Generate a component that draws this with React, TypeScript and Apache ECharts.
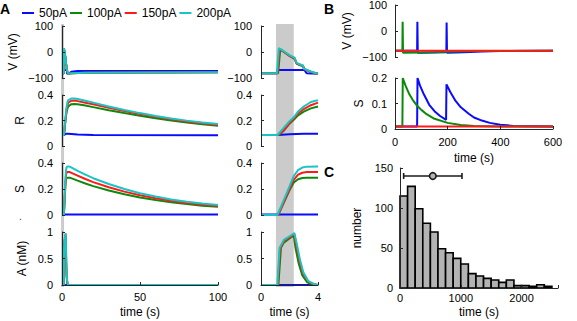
import React, { useEffect, useRef } from 'react';
import * as echarts from 'echarts';

const FONT = 'Liberation Sans, Arial, sans-serif';
const AX = '#262626';

// ---- legend / series names & colours
const currents = ['50pA', '100pA', '150pA', '200pA'];
const colors = ['#0a0aff', '#0a8a0a', '#ff1a1a', '#1ac4c4'];

// ---- Panel A, zoomed window (0-4 s)
const zV50 = [[0, -82], [1.12, -82], [1.18, -69], [3.05, -69], [3.2, -82], [4, -84]];
const zV100 = [[0, -82], [1.2, -82], [1.35, 10], [1.6, 0], [2.0, -15], [2.35, -26], [2.5, -45], [2.7, -50], [2.95, -55], [3.05, -66], [3.5, -77], [4, -84]];
const zV150 = [[0, -82], [1.15, -82], [1.3, 12], [1.6, 1], [2.0, -14], [2.35, -24], [2.5, -44], [2.7, -48], [2.95, -53], [3.0, -65], [3.5, -76], [4, -84]];
const zV200 = [[0, -82], [1.12, -82], [1.25, 15], [1.6, 3], [2.0, -12], [2.35, -22], [2.5, -42], [2.7, -47], [2.95, -52], [3.0, -64], [3.5, -75], [4, -84]];

const zR50 = [[0, 0.086], [1.2, 0.086], [2.0, 0.092], [3.0, 0.097], [4, 0.096]];
const zR100 = [[0, 0.086], [1.25, 0.086], [1.6, 0.12], [2.0, 0.175], [2.3, 0.205], [2.6, 0.24], [3.0, 0.27], [3.5, 0.295], [4, 0.31]];
const zR150 = [[0, 0.086], [1.2, 0.086], [1.6, 0.123], [2.0, 0.18], [2.3, 0.215], [2.6, 0.255], [3.0, 0.29], [3.5, 0.32], [4, 0.34]];
const zR200 = [[0, 0.086], [1.15, 0.086], [1.5, 0.13], [2.0, 0.195], [2.3, 0.225], [2.6, 0.27], [3.0, 0.31], [3.5, 0.345], [4, 0.36]];

const zS50 = [[0, 0.004], [4, 0.004]];
const zS100 = [[0, 0], [1.2, 0], [1.5, 0.07], [2.0, 0.19], [2.3, 0.25], [2.6, 0.275], [2.9, 0.284], [3.2, 0.287], [4, 0.287]];
const zS150 = [[0, 0], [1.2, 0], [1.5, 0.075], [2.0, 0.2], [2.3, 0.27], [2.6, 0.31], [2.9, 0.325], [3.2, 0.33], [4, 0.33]];
const zS200 = [[0, 0], [1.15, 0], [1.5, 0.09], [2.0, 0.22], [2.3, 0.3], [2.6, 0.345], [2.9, 0.365], [3.2, 0.372], [4, 0.374]];

const zA50 = [[0, 0], [4, 0]];
const zA100 = [[0, 0], [1.22, 0], [1.4, 0.7], [1.6, 0.8], [2.0, 0.88], [2.3, 0.93], [2.42, 0.7], [2.65, 0.4], [2.9, 0.18], [3.25, 0.05], [3.6, 0.01], [4, 0]];
const zA150 = [[0, 0], [1.18, 0], [1.33, 0.68], [1.6, 0.83], [2.0, 0.9], [2.34, 0.96], [2.48, 0.75], [2.7, 0.45], [2.95, 0.22], [3.3, 0.07], [3.7, 0.015], [4, 0]];
const zA200 = [[0, 0], [1.15, 0], [1.3, 0.7], [1.6, 0.85], [2.0, 0.92], [2.34, 0.98], [2.5, 0.79], [2.74, 0.47], [2.97, 0.24], [3.3, 0.08], [3.7, 0.02], [4, 0]];

// ---- Panel A, long window tails (after 4 s, up to 100 s)
const tV50 = [[6, -76], [10, -73], [100, -73]];
const tV100 = [[6, -82], [15, -80], [100, -78]];
const tV150 = [[6, -82], [15, -80], [100, -78]];
const tV200 = [[6, -82], [15, -80], [100, -78]];

const tR50 = [[6, 0.094], [10, 0.09], [20, 0.087], [100, 0.085]];
const tR100 = [[6, 0.328], [8, 0.33], [10, 0.327], [15, 0.317], [20, 0.305], [30, 0.281], [40, 0.258], [50, 0.237], [60, 0.218], [70, 0.2], [80, 0.185], [90, 0.171], [100, 0.158]];
const tR150 = [[6, 0.355], [8, 0.356], [10, 0.352], [15, 0.34], [20, 0.327], [30, 0.3], [40, 0.274], [50, 0.25], [60, 0.229], [70, 0.21], [80, 0.193], [90, 0.178], [100, 0.165]];
const tR200 = [[6, 0.372], [8, 0.372], [10, 0.368], [15, 0.355], [20, 0.34], [30, 0.31], [40, 0.283], [50, 0.258], [60, 0.236], [70, 0.216], [80, 0.199], [90, 0.185], [100, 0.172]];

const tS50 = [[100, 0.004]];
const tS100 = [[5, 0.287], [10, 0.264], [15, 0.242], [20, 0.222], [30, 0.188], [40, 0.159], [50, 0.135], [60, 0.115], [70, 0.098], [80, 0.084], [90, 0.072], [100, 0.063]];
const tS150 = [[5, 0.33], [10, 0.303], [15, 0.277], [20, 0.253], [30, 0.213], [40, 0.18], [50, 0.152], [60, 0.129], [70, 0.109], [80, 0.093], [90, 0.08], [100, 0.07]];
const tS200 = [[5, 0.372], [10, 0.34], [15, 0.31], [20, 0.283], [30, 0.238], [40, 0.2], [50, 0.168], [60, 0.142], [70, 0.12], [80, 0.102], [90, 0.088], [100, 0.077]];

const tA = [[100, 0]];

// stimulus bands (time, s)
const bandLong = [-0.6, 1.3];
const bandZoom = [1.05, 2.3];

// ---- Panel B (0-600 s)
const bV50 = [[0, -76], [84, -76], [85, 36], [86.5, -84], [150, -83], [195, -82], [196, 33], [197.5, -84], [260, -82], [330, -79], [400, -77], [600, -76]];
const bV100 = [[0, -76], [28, -76], [29, 36], [30.5, -84], [100, -83], [200, -80], [300, -77], [600, -76]];
const bV150 = [[0, -76], [600, -76]];
const bS50 = [[0, 0.01], [84, 0.01], [85.5, 0.2], [95, 0.17], [110, 0.135], [130, 0.095], [150, 0.07], [170, 0.052], [194, 0.036], [195.5, 0.175], [210, 0.145], [230, 0.11], [250, 0.085], [280, 0.06], [300, 0.045], [330, 0.033], [360, 0.024], [400, 0.017], [450, 0.012], [600, 0.01]];
const bS100 = [[0, 0.01], [28, 0.01], [29.5, 0.2], [40, 0.17], [55, 0.135], [70, 0.11], [85, 0.09], [100, 0.075], [120, 0.058], [150, 0.04], [200, 0.024], [250, 0.016], [300, 0.012], [400, 0.01], [600, 0.01]];
const bS150 = [[0, 0.01], [600, 0.01]];

// ---- Panel C histogram
const histEdges = [0, 125, 250, 375, 500, 625, 750, 875, 1000, 1125, 1250, 1375, 1500, 1625, 1750, 1875, 2000, 2125, 2250, 2375, 2500];
const histCounts = [115, 127, 99, 81, 70, 49, 44, 37, 30, 18, 15, 12, 10, 7, 10, 3, 3, 2, 4, 2];
const errBar = { low: 60, mean: 540, high: 1020, y: 140 };

const fmt = (v: number) => String(Number(v.toFixed(3))).replace('-', '\u2212');

function yAx(gridIndex: number, min: number, max: number, interval: number, name: string, nameGap: number, margin: number) {
  return {
    type: 'value', gridIndex, min, max, interval, name, nameLocation: 'middle', nameGap,
    nameTextStyle: { fontSize: 12, color: '#000', fontFamily: FONT },
    axisLine: { show: true, onZero: false, lineStyle: { color: AX, width: 1 } },
    axisTick: { show: true, inside: true, length: 3, lineStyle: { color: AX, width: 1 } },
    axisLabel: { fontSize: 11, color: '#000', fontFamily: FONT, margin, formatter: fmt },
    splitLine: { show: false },
    z: 4,
  };
}

function xHidden(gridIndex: number, min: number, max: number) {
  return { type: 'value', gridIndex, min, max, show: false };
}

function xAx(gridIndex: number, min: number, max: number, interval: number, margin: number, nameGap: number, formatter?: any) {
  return {
    type: 'value', gridIndex, min, max, interval, name: 'time (s)', nameLocation: 'middle', nameGap,
    nameTextStyle: { fontSize: 12, color: '#000', fontFamily: FONT },
    axisLine: { show: true, onZero: false, lineStyle: { color: AX, width: 1 } },
    axisTick: { show: true, inside: true, length: 3, lineStyle: { color: AX, width: 1 } },
    axisLabel: { fontSize: 11, color: '#000', fontFamily: FONT, margin, formatter: formatter || fmt },
    splitLine: { show: false },
    z: 4,
  };
}

function line(nameIdx: number, data: number[][], axIdx: number) {
  const c = colors[nameIdx];
  return {
    type: 'line', name: currents[nameIdx], xAxisIndex: axIdx, yAxisIndex: axIdx, data,
    showSymbol: false, symbol: 'none', lineStyle: { color: c, width: 2 }, itemStyle: { color: c },
    z: 2 + nameIdx * 0.1,
  };
}

function buildOption() {
  const gl = { left: 62, width: 156 };
  const gr = { left: 261, width: 57 };
  const rows = [{ top: 26, height: 52 }, { top: 95, height: 51 }, { top: 163, height: 52 }, { top: 232, height: 53 }];
  const grid: any[] = [];
  rows.forEach((r) => grid.push({ ...gl, ...r, outerBoundsMode: 'none', containLabel: false }));
  rows.forEach((r) => grid.push({ ...gr, ...r, outerBoundsMode: 'none', containLabel: false }));
  grid.push({ left: 395, width: 158, top: 5, height: 52, outerBoundsMode: 'none', containLabel: false });
  grid.push({ left: 395, width: 158, top: 78, height: 51, outerBoundsMode: 'none', containLabel: false });
  grid.push({ left: 400, width: 158, top: 168, height: 120, outerBoundsMode: 'none', containLabel: false });

  const xAxis: any[] = [
    xHidden(0, 0, 100), xHidden(1, 0, 100), xHidden(2, 0, 100), xAx(3, 0, 100, 50, 6, 21),
    xHidden(4, 0, 4), xHidden(5, 0, 4), xHidden(6, 0, 4), xAx(7, 0, 4, 4, 6, 21),
    xHidden(8, 0, 600), xAx(9, 0, 600, 200, 7, 23),
    xAx(10, 0, 2600, 1000, 4, 18, (v: number) => (v % 1000 === 0 ? String(v) : '')),
  ];
  const yAxis: any[] = [
    yAx(0, -100, 100, 100, 'V (mV)', 43, 9), yAx(1, 0, 0.4, 0.2, 'R', 36, 9), yAx(2, 0, 0.4, 0.2, 'S', 36, 9), yAx(3, 0, 1, 0.5, 'A (nM)', 34, 9),
    yAx(4, -100, 100, 100, '', 0, 9), yAx(5, 0, 0.4, 0.2, '', 0, 9), yAx(6, 0, 0.4, 0.2, '', 0, 9), yAx(7, 0, 1, 0.5, '', 0, 9),
    yAx(8, -100, 100, 100, 'V (mV)', 42, 8), yAx(9, 0, 0.2, 0.1, 'S', 30, 8),
    yAx(10, 0, 150, 50, 'number', 37, 7),
  ];

  const zoom = [[zV50, zV100, zV150, zV200], [zR50, zR100, zR150, zR200], [zS50, zS100, zS150, zS200], [zA50, zA100, zA150, zA200]];
  const tails = [[tV50, tV100, tV150, tV200], [tR50, tR100, tR150, tR200], [tS50, tS100, tS150, tS200], [tA, tA, tA, tA]];
  const series: any[] = [];
  for (let r = 0; r < 4; r++) {
    for (let k = 0; k < 4; k++) {
      series.push(line(k, zoom[r][k].concat(tails[r][k]), r));
      series.push(line(k, zoom[r][k], r + 4));
    }
  }
  series.push(line(1, bV100, 8), line(0, bV50, 8), line(2, bV150, 8));
  series.push(line(1, bS100, 9), line(0, bS50, 9), line(2, bS150, 9));

  series.push({
    type: 'custom', xAxisIndex: 10, yAxisIndex: 10,
    data: histCounts.map((c, i) => [histEdges[i], histEdges[i + 1], c]),
    encode: { x: [0, 1], y: 2 },
    renderItem: (params: any, api: any) => {
      const p0 = api.coord([api.value(0), api.value(2)]);
      const p1 = api.coord([api.value(1), 0]);
      return {
        type: 'rect',
        shape: { x: p0[0], y: p0[1], width: p1[0] - p0[0], height: p1[1] - p0[1] },
        style: { fill: '#b3b3b3', stroke: '#000', lineWidth: 1.6 },
      };
    },
    z: 2,
  });
  series.push({
    type: 'custom', xAxisIndex: 10, yAxisIndex: 10,
    data: [[errBar.low, errBar.mean, errBar.high, errBar.y]],
    encode: { x: [0, 1, 2], y: 3 },
    renderItem: (params: any, api: any) => {
      const a = api.coord([api.value(0), api.value(3)]);
      const m = api.coord([api.value(1), api.value(3)]);
      const b = api.coord([api.value(2), api.value(3)]);
      const st = { stroke: '#1a1a1a', lineWidth: 1.6 };
      return {
        type: 'group',
        children: [
          { type: 'line', shape: { x1: a[0], y1: a[1], x2: b[0], y2: b[1] }, style: st },
          { type: 'line', shape: { x1: a[0], y1: a[1] - 3, x2: a[0], y2: a[1] + 3 }, style: st },
          { type: 'line', shape: { x1: b[0], y1: b[1] - 3, x2: b[0], y2: b[1] + 3 }, style: st },
          { type: 'circle', shape: { cx: m[0], cy: m[1], r: 3.3 }, style: { fill: '#b3b3b3', stroke: '#1a1a1a', lineWidth: 1.6 } },
        ],
      };
    },
    z: 3,
  });

  return {
    animation: false,
    backgroundColor: '#fff',
    textStyle: { fontFamily: FONT },
    legend: {
      data: currents, left: 17, top: 2, itemWidth: 12, itemHeight: 2, itemGap: 3, icon: 'rect',
      selectedMode: false, textStyle: { fontSize: 12, color: '#000', fontFamily: FONT },
    },
    grid, xAxis, yAxis, series,
  };
}

export default function App() {
  const ref = useRef<HTMLDivElement>(null);
  useEffect(() => {
    const chart = echarts.init(ref.current!, null, { renderer: 'svg' });
    chart.setOption(buildOption() as any);
    const xl0 = chart.convertToPixel({ xAxisIndex: 0 }, bandLong[0]) as number;
    const xl1 = chart.convertToPixel({ xAxisIndex: 0 }, bandLong[1]) as number;
    const xr0 = chart.convertToPixel({ xAxisIndex: 4 }, bandZoom[0]) as number;
    const xr1 = chart.convertToPixel({ xAxisIndex: 4 }, bandZoom[1]) as number;
    const yTop = chart.convertToPixel({ yAxisIndex: 0 }, 108) as number;
    const yBot = chart.convertToPixel({ yAxisIndex: 3 }, -0.04) as number;
    const bandStyle = { fill: '#cbcbcb' };
    chart.setOption({
      graphic: [
        { type: 'rect', z: -1, shape: { x: xl0, y: yTop, width: xl1 - xl0, height: yBot - yTop }, style: bandStyle, silent: true },
        { type: 'rect', z: -1, shape: { x: xr0, y: yTop, width: xr1 - xr0, height: yBot - yTop }, style: bandStyle, silent: true },
        { type: 'text', left: 0, top: 2, style: { text: 'A', fontSize: 14, fontWeight: 'bold', fontFamily: FONT, fill: '#000' } },
        { type: 'text', left: 324, top: 2, style: { text: 'B', fontSize: 14, fontWeight: 'bold', fontFamily: FONT, fill: '#000' } },
        { type: 'text', left: 324, top: 165, style: { text: 'C', fontSize: 14, fontWeight: 'bold', fontFamily: FONT, fill: '#000' } },
        { type: 'text', left: 19, top: 211, style: { text: '.', fontSize: 10, fontFamily: FONT, fill: '#333' } },
      ],
    });
    return () => chart.dispose();
  }, []);
  return <div ref={ref} style={{ position: 'fixed', left: 0, top: 0, width: 577, height: 321, background: '#fff' }} />;
}
